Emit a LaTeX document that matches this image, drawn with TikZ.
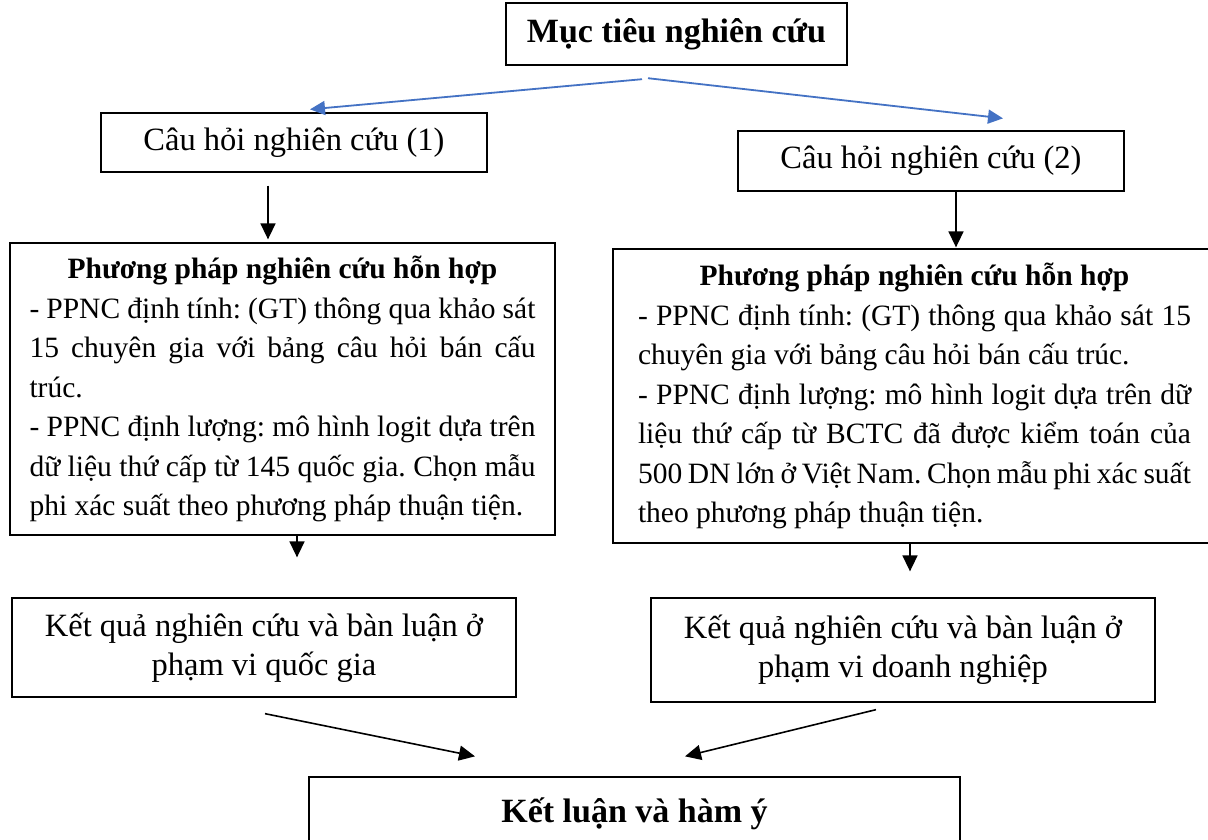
\documentclass[tikz,border=0pt]{standalone}
\usepackage{fontspec}
\setmainfont{Liberation Serif}
\usetikzlibrary{arrows.meta,calc}
\definecolor{flowblue}{RGB}{68,114,196}
\frenchspacing
\begin{document}
\begin{tikzpicture}[x=1pt,y=-1pt,
  box/.style={draw, line width=1.3pt, inner sep=0pt},
  qbox/.style={box, align=center, font=\fontsize{32.5}{39}\selectfont},
  mbox/.style={box, align=justify, font=\fontsize{29.5}{39.5}\selectfont},
  arr/.style={line width=1.6pt, -{Triangle[length=16pt,width=15pt]}},
  barr/.style={line width=1.8pt, draw=flowblue, -{Triangle[length=15pt,width=14pt]}, flowblue}
]
\useasboundingbox (0,0) rectangle (1208,839);
\fill[white] (0,0) rectangle (1208,839);

% top goal
\node[box, line width=2.4pt, minimum width=341, minimum height=62,
      font=\fontsize{34}{40}\selectfont\bfseries] (goal) at (676.5,34) {Mục tiêu nghiên cứu};

% research questions
\node[qbox, minimum width=386, minimum height=59] (q1) at (294,142.5) {Câu hỏi nghiên cứu (1)};
\node[qbox, minimum width=386, minimum height=60] (q2) at (931,161) {Câu hỏi nghiên cứu (2)};

% methods
\node[mbox, text width=506pt, inner xsep=19.5pt, minimum height=292] (m1) at (282.5,389) {%
\hbox to\hsize{\hfil\bfseries Phương pháp nghiên cứu hỗn hợp\hfil}\par
- PPNC định tính: (GT) thông qua khảo sát\linebreak
15 chuyên gia với bảng câu hỏi bán cấu\linebreak
trúc.\par
- PPNC định lượng: mô hình logit dựa trên\linebreak
dữ liệu thứ cấp từ 145 quốc gia. Chọn mẫu\linebreak
phi xác suất theo phương pháp thuận tiện.};

\node[mbox, text width=553pt, inner xsep=25pt, minimum height=294] (m2) at (914.5,396) {%
\hbox to\hsize{\hfil\bfseries Phương pháp nghiên cứu hỗn hợp\hfil}\par
- PPNC định tính: (GT) thông qua khảo sát 15\linebreak
chuyên gia với bảng câu hỏi bán cấu trúc.\par
- PPNC định lượng: mô hình logit dựa trên dữ\linebreak
liệu thứ cấp từ BCTC đã được kiểm toán của\linebreak
500 DN lớn ở Việt Nam. Chọn mẫu phi xác suất\linebreak
theo phương pháp thuận tiện.};

% results
\node[qbox, minimum width=504, minimum height=99] (r1) at (264,647.5)
  {Kết quả nghiên cứu và bàn luận ở\\phạm vi quốc gia};
\node[qbox, minimum width=504, minimum height=104] (r2) at (903,650)
  {Kết quả nghiên cứu và bàn luận ở\\phạm vi doanh nghiệp};

% conclusion
\node[box, minimum width=651, minimum height=73,
      font=\fontsize{34}{40}\selectfont\bfseries] (con) at (634.5,813.5) {Kết luận và hàm ý};

% connectors
\draw[barr] ($(goal.south)+(-34.5,13)$) -- ($(q1.north)+(16,-3)$);
\draw[barr] ($(goal.south)+(-28.5,12)$) -- ($(q2.north)+(72,-12)$);
\draw[arr] ($(q1.south)+(-26,13)$) -- ($(m1.north)+(-14.5,-3)$);
\draw[arr] ($(q2.south)+(25,0)$) -- ($(m2.north)+(41.5,-1)$);
\draw[arr] ($(m1.south)+(14.5,0)$) -- ($(r1.north)+(33,-40)$);
\draw[arr] ($(m2.south)+(-4.5,0)$) -- ($(r2.north)+(7,-26)$);
\draw[arr] ($(r1.south)+(1,16)$) -- ($(con.north)+(-159.5,-20)$);
\draw[arr] ($(r2.south)+(-27,7)$) -- ($(con.north)+(50.5,-20)$);
\end{tikzpicture}
\end{document}
